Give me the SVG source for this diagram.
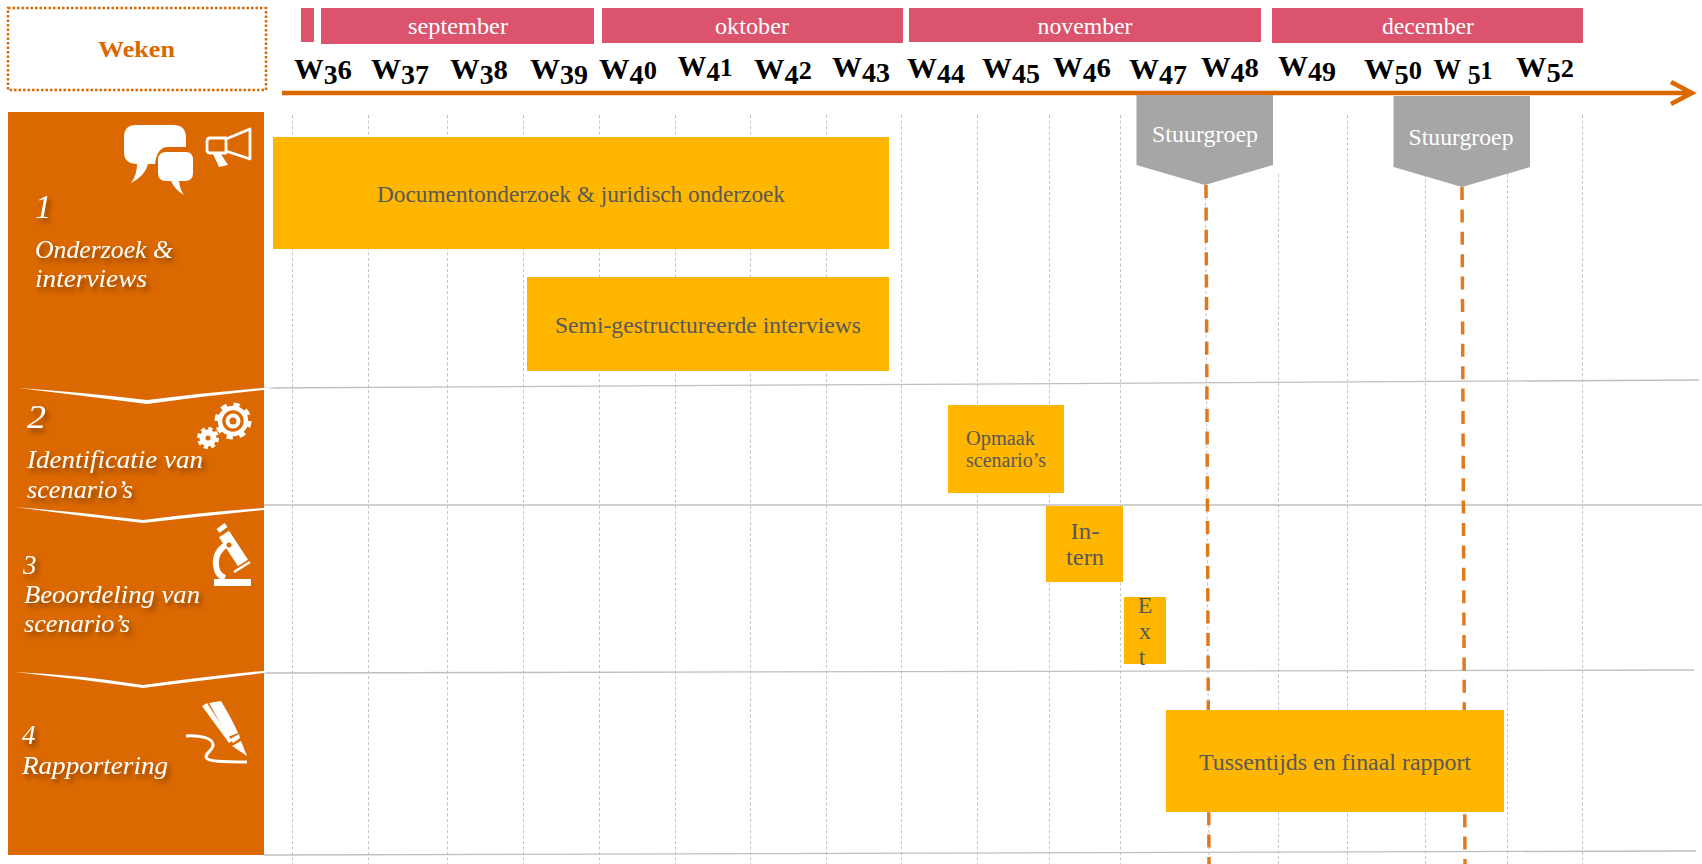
<svg xmlns="http://www.w3.org/2000/svg" width="1702" height="864" viewBox="0 0 1702 864">
<defs>
<filter id="sh" x="-20%" y="-30%" width="150%" height="180%"><feDropShadow dx="3" dy="4" stdDeviation="2.5" flood-color="#000" flood-opacity="0.4"/></filter>
</defs>
<style>
text{font-family:"Liberation Serif","DejaVu Serif",serif}
.wk{font-size:29px;font-weight:bold;fill:#000;text-anchor:middle}
.s{font-size:25px}
.d{font-size:27px;baseline-shift:-5px}
.u{font-size:28px}
.mo{font-size:23px;fill:#fff;text-anchor:middle}
.bar{fill:#FFB600}
.bt{font-size:24px;fill:#595959}
.st{font-size:23px;fill:#fff;text-anchor:middle}
.pl{font-size:25px;font-style:italic;fill:#fff;filter:url(#sh)}
.num{font-size:33px;font-style:italic;fill:#fff;filter:url(#sh)}
.grid{stroke:#C4C4C4;stroke-width:1;stroke-dasharray:3 2.5;fill:none}
.hl{stroke:#BFBFBF;stroke-width:1.3;fill:none}
.ms{stroke:#DB6800;stroke-width:3.5;stroke-dasharray:13 9.4;fill:none;stroke-opacity:.88}
.mon{fill:#DC536E}
.ic{fill:#fff}
.ico{fill:none;stroke:#fff;stroke-width:2.8;stroke-linejoin:round}
.wl{fill:none;stroke:#fff}
</style>
<g id="connectors">
<g id="grid">
<path class="grid" d="M292.5 115V864"/><path class="grid" d="M368.5 115V864"/><path class="grid" d="M447.5 115V864"/><path class="grid" d="M523.5 115V864"/><path class="grid" d="M599.5 115V864"/><path class="grid" d="M675.5 115V864"/><path class="grid" d="M750.5 115V864"/><path class="grid" d="M826.5 115V864"/><path class="grid" d="M901.5 115V864"/><path class="grid" d="M977.5 115V864"/><path class="grid" d="M1049.5 115V864"/><path class="grid" d="M1120.5 115V864"/><path class="grid" d="M1205 115L1209 864"/><path class="grid" d="M1278.5 174V864"/><path class="grid" d="M1347.5 115V864"/><path class="grid" d="M1425.5 174V864"/><path class="grid" d="M1507.5 174V864"/><path class="grid" d="M1582.5 115V864"/>
</g>
<path class="hl" d="M264 388L1699 380"/>
<path class="hl" d="M264 505H1702"/>
<path class="hl" d="M264 673L1694 670"/>
<path class="hl" d="M264 855L1696 851"/>
<path class="ms" d="M1206 185L1209 864"/>
<path class="ms" d="M1462 187L1465 864"/>
<path id="axis" d="M282 93H1690M1671 82L1692 93L1671 104" fill="none" stroke="#DB6800" stroke-width="4.5"/>
</g>
<g id="weken"><rect x="8" y="8" width="258" height="82" fill="#fff" stroke="#DB6800" stroke-width="2.5" stroke-dasharray="2.5 2"/><text x="136.500" y="57" text-anchor="middle" font-size="23" font-weight="bold" fill="#DB6800" textLength="77" lengthAdjust="spacingAndGlyphs">Weken</text></g>
<g id="months">
<rect class="mon" x="301" y="8" width="13" height="34"/>
<rect class="mon" x="321" y="8" width="273" height="36"/><text class="mo" x="458" y="34" textLength="100" lengthAdjust="spacingAndGlyphs">september</text>
<rect class="mon" x="602" y="8" width="301" height="35"/><text class="mo" x="752" y="34" textLength="74" lengthAdjust="spacingAndGlyphs">oktober</text>
<rect class="mon" x="909" y="8" width="352" height="34"/><text class="mo" x="1085" y="34" textLength="95" lengthAdjust="spacingAndGlyphs">november</text>
<rect class="mon" x="1272" y="8" width="311" height="35"/><text class="mo" x="1428" y="34" textLength="92" lengthAdjust="spacingAndGlyphs">december</text>
</g>
<g id="weeks">
<text class="wk" x="323" y="79" textLength="58" lengthAdjust="spacingAndGlyphs">W<tspan class="d">3</tspan><tspan class="u">6</tspan></text>
<text class="wk" x="400" y="79" textLength="58" lengthAdjust="spacingAndGlyphs">W<tspan class="d">3</tspan><tspan class="d">7</tspan></text>
<text class="wk" x="479" y="79" textLength="58" lengthAdjust="spacingAndGlyphs">W<tspan class="d">3</tspan><tspan class="u">8</tspan></text>
<text class="wk" x="559" y="79" textLength="58" lengthAdjust="spacingAndGlyphs">W<tspan class="d">3</tspan><tspan class="d">9</tspan></text>
<text class="wk" x="628" y="79" textLength="58" lengthAdjust="spacingAndGlyphs">W<tspan class="d">4</tspan><tspan class="s">0</tspan></text>
<text class="wk" x="705" y="76" textLength="55" lengthAdjust="spacingAndGlyphs">W<tspan class="d">4</tspan><tspan class="s">1</tspan></text>
<text class="wk" x="783" y="79" textLength="58" lengthAdjust="spacingAndGlyphs">W<tspan class="d">4</tspan><tspan class="s">2</tspan></text>
<text class="wk" x="861" y="77" textLength="58" lengthAdjust="spacingAndGlyphs">W<tspan class="d">4</tspan><tspan class="d">3</tspan></text>
<text class="wk" x="936" y="78" textLength="58" lengthAdjust="spacingAndGlyphs">W<tspan class="d">4</tspan><tspan class="d">4</tspan></text>
<text class="wk" x="1011" y="78" textLength="58" lengthAdjust="spacingAndGlyphs">W<tspan class="d">4</tspan><tspan class="d">5</tspan></text>
<text class="wk" x="1082" y="77" textLength="58" lengthAdjust="spacingAndGlyphs">W<tspan class="d">4</tspan><tspan class="u">6</tspan></text>
<text class="wk" x="1158" y="79" textLength="58" lengthAdjust="spacingAndGlyphs">W<tspan class="d">4</tspan><tspan class="d">7</tspan></text>
<text class="wk" x="1230" y="77" textLength="58" lengthAdjust="spacingAndGlyphs">W<tspan class="d">4</tspan><tspan class="u">8</tspan></text>
<text class="wk" x="1307" y="76" textLength="58" lengthAdjust="spacingAndGlyphs">W<tspan class="d">4</tspan><tspan class="d">9</tspan></text>
<text class="wk" x="1393" y="79" textLength="58" lengthAdjust="spacingAndGlyphs">W<tspan class="d">5</tspan><tspan class="s">0</tspan></text>
<text class="wk" x="1463" y="79" textLength="59" lengthAdjust="spacingAndGlyphs">W <tspan class="d">5</tspan><tspan class="s">1</tspan></text>
<text class="wk" x="1545" y="77" textLength="58" lengthAdjust="spacingAndGlyphs">W<tspan class="d">5</tspan><tspan class="s">2</tspan></text>
</g>
<g id="panel">
<rect x="8" y="112" width="256" height="743" fill="#DB6800"/>
<path class="ic" d="M18 388Q80 392 147 400Q210 392 275 387L264 390Q205 396 147 404Q85 396 18 388Z"/>
<path class="ic" d="M15 507Q80 512 143 520Q205 512 264 508L264 510Q205 516 143 523Q80 516 15 507Z"/>
<path class="ic" d="M15 672Q80 675 143 685Q210 676 272 670L264 673Q205 680 143 688Q80 679 15 672Z"/>
</g>
<g id="phase1">
<path class="ic" d="M136 125H173Q186 125 186 138V147H168Q157 147 155 164H148Q145 176 131 183Q137 175 137 164Q124 164 124 152V137Q124 125 136 125Z"/>
<path class="ic" d="M166 152H186Q193 152 193 160V173Q193 181 185 181H179Q180 190 184 195Q175 190 171 181H166Q158 181 158 173V160Q158 152 166 152Z"/>
<path class="ico" d="M226 138H210Q207 138 207 142V150Q207 153 210 153H226ZM226 139L250 129V159L226 151"/>
<path class="ic" d="M213 154H221L228 165L219 167Z"/>
<text class="num" x="35" y="218">1</text>
<text class="pl" x="35" y="258" textLength="138" lengthAdjust="spacingAndGlyphs">Onderzoek &amp;</text>
<text class="pl" x="35" y="287" textLength="112" lengthAdjust="spacingAndGlyphs">interviews</text>
</g>
<g id="phase2">
<circle class="wl" cx="233" cy="421" r="13" stroke-width="4.5"/>
<circle class="wl" cx="233" cy="421" r="16" stroke-width="5" stroke-dasharray="6 6.57"/>
<circle class="wl" cx="233" cy="421" r="5.5" stroke-width="4"/>
<circle class="wl" cx="208" cy="438" r="5.5" stroke-width="6"/>
<circle class="wl" cx="208" cy="438" r="9" stroke-width="4" stroke-dasharray="4 3.07"/>
<text x="27" y="428" font-size="34" font-style="italic" fill="#fff" filter="url(#sh)" textLength="19" lengthAdjust="spacingAndGlyphs">2</text>
<text class="pl" x="27" y="468" textLength="176" lengthAdjust="spacingAndGlyphs">Identificatie van</text>
<text class="pl" x="27" y="498" textLength="106" lengthAdjust="spacingAndGlyphs">scenario’s</text>
</g>
<g id="phase3">
<path class="wl" d="M224 534L243 563" stroke-width="12"/>
<path class="wl" d="M218 531L226 525" stroke-width="5"/>
<path class="wl" d="M234 572L250 562" stroke-width="2.5"/>
<path class="wl" d="M227 544Q212 554 217 570Q219 576 225 578" stroke-width="6"/>
<path class="ic" d="M214 579H251V586H214Z"/>
<circle cx="229" cy="545" r="2.5" fill="#DB6800"/>
<text x="23" y="574" font-size="27" font-style="italic" fill="#fff" filter="url(#sh)">3</text>
<text class="pl" x="24" y="603" textLength="176" lengthAdjust="spacingAndGlyphs">Beoordeling van</text>
<text class="pl" x="24" y="632" textLength="106" lengthAdjust="spacingAndGlyphs">scenario’s</text>
</g>
<g id="phase4">
<path class="ic" d="M202 706L207 703L232 741L229 743Z"/>
<path class="ic" d="M209 703L221 701Q233 721 238 733L228 737Z"/>
<path class="ic" d="M230 739L239 734L240 738L233 743Z"/>
<path class="ic" d="M232 746L241 741L247 756Z"/>
<path d="M186 736C200 735 212 738 213 744C214 750 206 752 206 757C206 762 225 762 247 762" fill="none" stroke="#fff" stroke-width="3"/>
<text x="22" y="744" font-size="27" font-style="italic" fill="#fff" filter="url(#sh)">4</text>
<text class="pl" x="22" y="774" textLength="146" lengthAdjust="spacingAndGlyphs">Rapportering</text>
</g>
<g id="task-doc"><rect class="bar" x="273" y="137" width="616" height="112"/><text class="bt" x="377" y="202" textLength="408" lengthAdjust="spacingAndGlyphs">Documentonderzoek &amp; juridisch onderzoek</text></g>
<g id="task-int"><rect class="bar" x="527" y="277" width="362" height="94"/><text class="bt" x="555" y="333" textLength="306" lengthAdjust="spacingAndGlyphs">Semi-gestructureerde interviews</text></g>
<g id="task-opm"><rect class="bar" x="948" y="405" width="116" height="88"/><text class="bt" x="966" y="445" style="font-size:20px" textLength="69" lengthAdjust="spacingAndGlyphs">Opmaak</text><text class="bt" x="966" y="467" style="font-size:20px" textLength="80" lengthAdjust="spacingAndGlyphs">scenario’s</text></g>
<g id="task-intern"><rect class="bar" x="1046" y="506" width="77" height="76"/><text class="bt" x="1085" y="539" text-anchor="middle" textLength="29" lengthAdjust="spacingAndGlyphs">In-</text><text class="bt" x="1085" y="565" text-anchor="middle" textLength="38" lengthAdjust="spacingAndGlyphs">tern</text></g>
<g id="task-ext"><rect class="bar" x="1124" y="597" width="42" height="67"/><text class="bt" x="1145" y="613" text-anchor="middle">E</text><text class="bt" x="1145" y="639" text-anchor="middle">x</text><text class="bt" x="1142" y="665" text-anchor="middle">t</text></g>
<g id="task-rap"><rect class="bar" x="1166" y="710" width="338" height="102"/><text class="bt" x="1199" y="770" textLength="272" lengthAdjust="spacingAndGlyphs">Tussentijds en finaal rapport</text></g>
<g id="sg1"><path d="M1136.500 95H1273V165L1205 185L1136.500 165Z" fill="#A6A6A6"/><text class="st" x="1205" y="142" textLength="106" lengthAdjust="spacingAndGlyphs">Stuurgroep</text></g>
<g id="sg2"><path d="M1393.500 96H1530V167L1462 187L1393.500 167Z" fill="#A6A6A6"/><text class="st" x="1461" y="145" textLength="105" lengthAdjust="spacingAndGlyphs">Stuurgroep</text></g>
</svg>
